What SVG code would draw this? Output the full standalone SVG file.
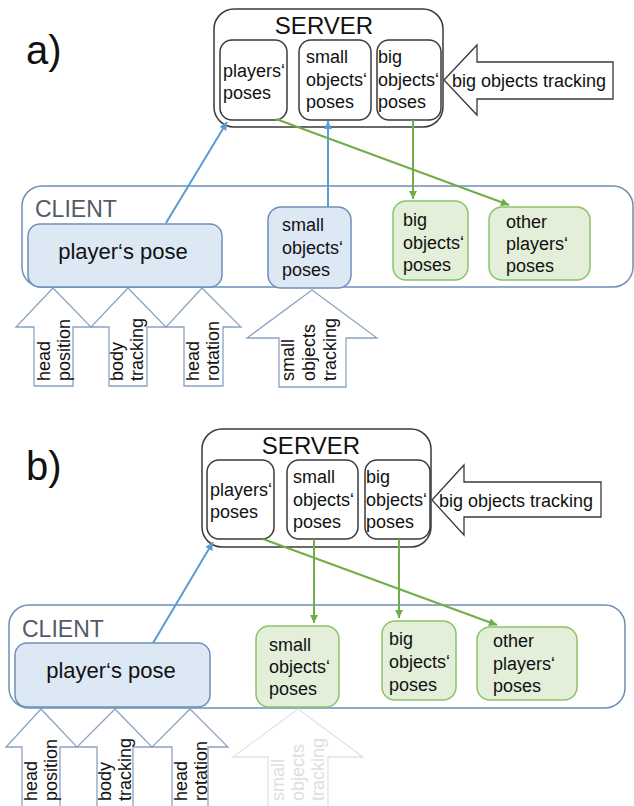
<svg xmlns="http://www.w3.org/2000/svg" width="634" height="806" viewBox="0 0 634 806">
<style>
  text { font-family: "Liberation Sans", Arial, sans-serif; fill: #111; }
  .lbl { font-size: 40px; }
  .srvTitle { font-size: 24px; text-anchor: middle; }
  .t18 { font-size: 18px; }
  .cli { font-size: 23px; fill: #555b66; }
  .pp { font-size: 22px; text-anchor: middle; }
  .srvOuter { fill: #fff; stroke: #3a3a3a; stroke-width: 1.5; }
  .srvInner { fill: #fff; stroke: #3a3a3a; stroke-width: 1.5; }
  .cliOuter { fill: none; stroke: #6f8fb8; stroke-width: 1.5; }
  .blueNode { fill: #dde8f5; stroke: #6f8fb8; stroke-width: 1.5; }
  .greenNode { fill: #e3efd9; stroke: #8cc26a; stroke-width: 1.5; }
  .inArrow { fill: #fff; stroke: #8aa3c4; stroke-width: 1.3; }
  .fadeArrow { fill: #fff; stroke: #e2e2e2; stroke-width: 1.3; }
  .fadeText { fill: #dedede; }
  .bigArrow { fill: #fff; stroke: #3a3a3a; stroke-width: 1.3; }
  .blueLine { stroke: #5b9bd5; stroke-width: 2; fill: none; marker-end: url(#ab); }
  .greenLine { stroke: #70ad47; stroke-width: 2; fill: none; marker-end: url(#ag); }
</style>
<defs>
  <marker id="ab" viewBox="0 0 10 10" refX="10" refY="5" markerWidth="9" markerHeight="8" markerUnits="userSpaceOnUse" orient="auto">
    <path d="M0,0 L10,5 L0,10 z" fill="#5b9bd5"/>
  </marker>
  <marker id="ag" viewBox="0 0 10 10" refX="10" refY="5" markerWidth="9" markerHeight="8" markerUnits="userSpaceOnUse" orient="auto">
    <path d="M0,0 L10,5 L0,10 z" fill="#70ad47"/>
  </marker>
</defs>

<!-- ================= PANEL A ================= -->
<text class="lbl" x="26" y="64">a)</text>

<g id="a-server">
  <rect class="srvOuter" x="214" y="9" width="229" height="118" rx="20"/>
  <text class="srvTitle" x="324" y="34">SERVER</text>
</g>
<g id="a-srv-players">
  <rect class="srvInner" x="220" y="40" width="67" height="80" rx="12"/>
  <text class="t18" x="223" y="77">players‘</text>
  <text class="t18" x="223" y="99">poses</text>
</g>
<g id="a-srv-small">
  <rect class="srvInner" x="299" y="40" width="72" height="80" rx="12"/>
  <text class="t18" x="306" y="63">small</text>
  <text class="t18" x="306" y="86">objects‘</text>
  <text class="t18" x="306" y="108">poses</text>
</g>
<g id="a-srv-big">
  <rect class="srvInner" x="377" y="40" width="64" height="80" rx="12"/>
  <text class="t18" x="378" y="63">big</text>
  <text class="t18" x="378" y="86">objects‘</text>
  <text class="t18" x="378" y="108">poses</text>
</g>
<g id="a-bigtrack">
  <polygon class="bigArrow" points="444,80 477,45 477,62 613,62 613,99 477,99 477,115"/>
  <text class="t18" x="452" y="87">big objects tracking</text>
</g>

<g id="a-client">
  <rect class="cliOuter" x="22" y="186" width="611" height="101" rx="20"/>
  <text class="cli" x="35" y="217">CLIENT</text>
</g>
<g id="a-cli-pose">
  <rect class="blueNode" x="28" y="224" width="194" height="63" rx="12"/>
  <text class="pp" x="123" y="259">player‘s pose</text>
</g>
<g id="a-cli-small">
  <rect class="blueNode" x="268" y="207" width="83" height="81" rx="13"/>
  <text class="t18" x="282" y="231">small</text>
  <text class="t18" x="282" y="254">objects‘</text>
  <text class="t18" x="282" y="276">poses</text>
</g>
<g id="a-cli-big">
  <rect class="greenNode" x="393" y="201" width="75" height="79" rx="13"/>
  <text class="t18" x="403" y="226">big</text>
  <text class="t18" x="403" y="249">objects‘</text>
  <text class="t18" x="403" y="271">poses</text>
</g>
<g id="a-cli-other">
  <rect class="greenNode" x="489" y="207" width="101" height="73" rx="13"/>
  <text class="t18" x="506" y="228">other</text>
  <text class="t18" x="506" y="250">players‘</text>
  <text class="t18" x="506" y="272">poses</text>
</g>

<g id="a-in-headpos">
  <polygon class="inArrow" points="53,288 91,327 73,327 73,386 34,386 34,327 16,327"/>
  <text class="t18" transform="translate(50,381) rotate(-90)"><tspan x="0" y="0">head</tspan><tspan x="0" y="20">position</tspan></text>
</g>
<g id="a-in-body">
  <polygon class="inArrow" points="128,288 166,327 147,327 147,386 109,386 109,327 91,327"/>
  <text class="t18" transform="translate(123,381) rotate(-90)"><tspan x="0" y="0">body</tspan><tspan x="0" y="20">tracking</tspan></text>
</g>
<g id="a-in-headrot">
  <polygon class="inArrow" points="202,288 241,327 223,327 223,386 184,386 184,327 166,327"/>
  <text class="t18" transform="translate(199,381) rotate(-90)"><tspan x="0" y="0">head</tspan><tspan x="0" y="20">rotation</tspan></text>
</g>
<g id="a-in-small">
  <polygon class="inArrow" points="312,290 377,338 346,338 346,387 279,387 279,338 247,338"/>
  <text class="t18" transform="translate(294,381) rotate(-90)"><tspan x="0" y="0">small</tspan><tspan x="0" y="21">objects</tspan><tspan x="0" y="42">tracking</tspan></text>
</g>

<g id="a-connectors">
  <line class="blueLine" x1="166" y1="223" x2="227" y2="122"/>
  <line class="blueLine" x1="328" y1="206" x2="328" y2="121"/>
  <line class="greenLine" x1="413" y1="120" x2="413" y2="199"/>
  <line class="greenLine" x1="276" y1="119" x2="509" y2="205"/>
</g>

<!-- ================= PANEL B ================= -->
<text class="lbl" x="26" y="480">b)</text>

<g id="b-server">
  <rect class="srvOuter" x="202" y="429" width="229" height="118" rx="20"/>
  <text class="srvTitle" x="311" y="454">SERVER</text>
</g>
<g id="b-srv-players">
  <rect class="srvInner" x="207" y="460" width="67" height="79" rx="12"/>
  <text class="t18" x="210" y="496">players‘</text>
  <text class="t18" x="210" y="518">poses</text>
</g>
<g id="b-srv-small">
  <rect class="srvInner" x="287" y="460" width="71" height="79" rx="12"/>
  <text class="t18" x="293" y="483">small</text>
  <text class="t18" x="293" y="506">objects‘</text>
  <text class="t18" x="293" y="528">poses</text>
</g>
<g id="b-srv-big">
  <rect class="srvInner" x="365" y="460" width="65" height="79" rx="12"/>
  <text class="t18" x="366" y="483">big</text>
  <text class="t18" x="366" y="506">objects‘</text>
  <text class="t18" x="366" y="528">poses</text>
</g>
<g id="b-bigtrack">
  <polygon class="bigArrow" points="432,500 464,465 464,482 601,482 601,517 464,517 464,535"/>
  <text class="t18" x="439" y="507">big objects tracking</text>
</g>

<g id="b-client">
  <rect class="cliOuter" x="9" y="605" width="616" height="103" rx="20"/>
  <text class="cli" x="22" y="637">CLIENT</text>
</g>
<g id="b-cli-pose">
  <rect class="blueNode" x="15" y="643" width="195" height="64" rx="12"/>
  <text class="pp" x="111" y="678">player‘s pose</text>
</g>
<g id="b-cli-small">
  <rect class="greenNode" x="256" y="626" width="83" height="81" rx="13"/>
  <text class="t18" x="269" y="651">small</text>
  <text class="t18" x="269" y="673">objects‘</text>
  <text class="t18" x="269" y="695">poses</text>
</g>
<g id="b-cli-big">
  <rect class="greenNode" x="382" y="621" width="74" height="79" rx="13"/>
  <text class="t18" x="389" y="645">big</text>
  <text class="t18" x="389" y="668">objects‘</text>
  <text class="t18" x="389" y="691">poses</text>
</g>
<g id="b-cli-other">
  <rect class="greenNode" x="477" y="627" width="100" height="73" rx="13"/>
  <text class="t18" x="493" y="647">other</text>
  <text class="t18" x="493" y="670">players‘</text>
  <text class="t18" x="493" y="692">poses</text>
</g>

<g id="b-in-headpos">
  <polygon class="inArrow" points="41,709 77,747 60,747 60,812 22,812 22,747 6,747"/>
  <text class="t18" transform="translate(37,801) rotate(-90)"><tspan x="0" y="0">head</tspan><tspan x="0" y="20">position</tspan></text>
</g>
<g id="b-in-body">
  <polygon class="inArrow" points="115,709 152,747 133,747 133,812 97,812 97,747 77,747"/>
  <text class="t18" transform="translate(111,801) rotate(-90)"><tspan x="0" y="0">body</tspan><tspan x="0" y="20">tracking</tspan></text>
</g>
<g id="b-in-headrot">
  <polygon class="inArrow" points="190,709 228,747 208,747 208,812 172,812 172,747 152,747"/>
  <text class="t18" transform="translate(187,801) rotate(-90)"><tspan x="0" y="0">head</tspan><tspan x="0" y="20">rotation</tspan></text>
</g>
<g id="b-in-small">
  <polygon class="fadeArrow" points="298,709 363,757 328,757 328,812 268,812 268,757 233,757"/>
  <text class="t18 fadeText" transform="translate(284,801) rotate(-90)"><tspan x="0" y="0">small</tspan><tspan x="0" y="20">objects</tspan><tspan x="0" y="40">tracking</tspan></text>
</g>

<g id="b-connectors">
  <line class="blueLine" x1="153" y1="643" x2="213" y2="542"/>
  <line class="greenLine" x1="314" y1="539" x2="314" y2="623"/>
  <line class="greenLine" x1="399" y1="539" x2="399" y2="618"/>
  <line class="greenLine" x1="263" y1="539" x2="497" y2="625"/>
</g>
</svg>
